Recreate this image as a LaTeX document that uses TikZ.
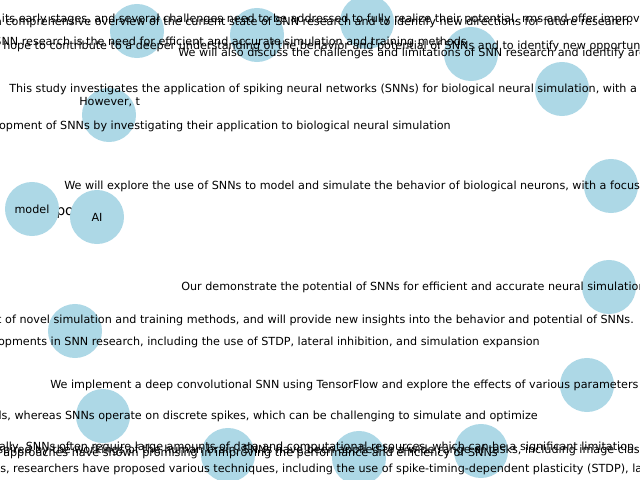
\documentclass[tikz,border=0pt]{standalone}
\usepackage{fontspec}
\setmainfont{DejaVu Sans}
\definecolor{nodeblue}{HTML}{ADD8E6}

\begin{document}
\begin{tikzpicture}[x=0.025cm, y=-0.025cm,
  every node/.style={font=\fontsize{7.95}{9}\selectfont},
  nd/.style={circle, fill=nodeblue, minimum size=1.35cm, inner sep=0pt},
  lbl/.style={inner sep=0pt}]

  % 画面の範囲 (640 x 480)
  \useasboundingbox (0,0) rectangle (640,480);
  \clip (0,0) rectangle (640,480);

  % 円の下に隠れる文字
  \node[lbl, anchor=mid west, font=\fontsize{10}{11}\selectfont] (tpo) at (56,212) {po};

  % ノード (円)
  \node[nd] (n1) at (137,31) {};
  \node[nd] (n2) at (257,35) {};
  \node[nd] (n3) at (367,22) {};
  \node[nd] (n4) at (471,54) {};
  \node[nd] (n5) at (562,89) {};
  \node[nd] (n6) at (109,115) {};
  \node[nd] (n7) at (611,186) {};
  \node[nd] (model) at (32,209) {model};
  \node[nd] (ai) at (97,217) {AI};
  \node[nd] (n10) at (609,287) {};
  \node[nd] (n11) at (75,331) {};
  \node[nd] (n12) at (587,385) {};
  \node[nd] (n13) at (103,416) {};
  \node[nd] (n14) at (228,455) {};
  \node[nd] (n15) at (359,458) {};
  \node[nd] (n16) at (481,451) {};

  % 上部のラベル
  \node[lbl, anchor=mid east] (t1) at (518,19) {its early stages, and several challenges need to be addressed to fully realize their potential.};
  \node[lbl, anchor=mid east] (t2) at (633,22) {a comprehensive overview of the current state of SNN research and to identify new directions for future research.};
  \node[lbl, anchor=mid east] (t3) at (640,19) {rms and offer improv};
  \node[lbl, anchor=mid east] (t4) at (467,42) {SNN research is the need for efficient and accurate simulation and training methods};
  \node[lbl, anchor=mid west] (t5) at (3,46) {hope to contribute to a deeper understanding of the behavior and potential of SNNs and to identify new opportun};
  \node[lbl, anchor=mid west] (t6) at (178,53) {We will also discuss the challenges and limitations of SNN research and identify are};

  % 中央のラベル
  \node[lbl, anchor=mid west] (t7) at (9,89) {This study investigates the application of spiking neural networks (SNNs) for biological neural simulation, with a f};
  \node[lbl, anchor=mid west] (t8) at (79,102) {However, t};
  \node[lbl, anchor=mid east] (t9) at (451,126) {opment of SNNs by investigating their application to biological neural simulation};
  \node[lbl, anchor=mid west] (t10) at (64,186) {We will explore the use of SNNs to model and simulate the behavior of biological neurons, with a focus};
  \node[lbl, anchor=mid west] (t11) at (181,287) {Our demonstrate the potential of SNNs for efficient and accurate neural simulation};
  \node[lbl, anchor=mid east] (t12) at (634,320) {t of novel simulation and training methods, and will provide new insights into the behavior and potential of SNNs.};
  \node[lbl, anchor=mid east] (t13) at (540,342) {opments in SNN research, including the use of STDP, lateral inhibition, and simulation expansion};
  \node[lbl, anchor=mid west] (t14) at (50,385) {We implement a deep convolutional SNN using TensorFlow and explore the effects of various parameters};
  \node[lbl, anchor=mid east] (t15) at (538,416) {ls, whereas SNNs operate on discrete spikes, which can be challenging to simulate and optimize};

  % 下部のラベル
  \node[lbl, anchor=mid east] (t16) at (638,447) {nally, SNNs often require large amounts of data and computational resources, which can be a significant limitation.};
  \node[lbl, anchor=mid east] (t17) at (640,450) {inspired by the workings of the human brain, SNNs have been applied to a wide range of tasks, including image clas};
  \node[lbl, anchor=mid west] (t18) at (3,453) {approaches have shown promising in improving the performance and efficiency of SNNs};
  \node[lbl, anchor=mid west] (t19) at (0,469) {s, researchers have proposed various techniques, including the use of spike-timing-dependent plasticity (STDP), lat};

\end{tikzpicture}
\end{document}
